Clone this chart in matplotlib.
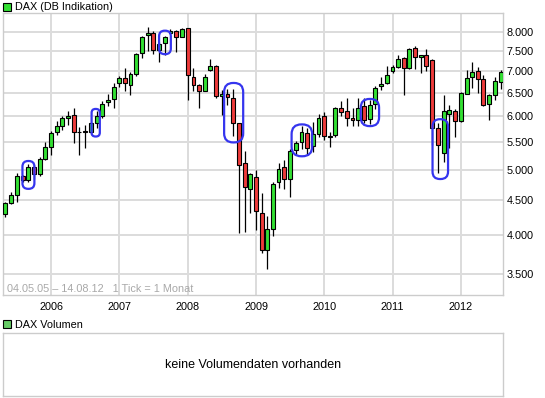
import numpy as np
import pandas as pd
import matplotlib
matplotlib.use("Agg")
import matplotlib.pyplot as plt
import matplotlib.dates as mdates
from matplotlib.patches import Rectangle, FancyBboxPatch
from matplotlib.ticker import FixedLocator, NullLocator
from matplotlib.transforms import IdentityTransform

plt.rcParams['font.family'] = ['Liberation Sans', 'DejaVu Sans']

# monthly DAX candles, May 2005 .. Aug 2012
months = pd.date_range('2005-05-01', periods=88, freq='MS')
opens = [4300, 4461, 4590, 4887, 4829, 5050, 4929, 5193,
         5408, 5690, 5800, 5970, 6025, 5690, 5700, 5690, 5859, 6004, 6296, 6364,
         6720, 6850, 6681, 6930, 7452, 7918, 7973, 7530, 7703, 7973, 8035, 7880,
         8110, 6877, 6681, 6552, 7044, 7130, 6440, 6480, 6400, 5860, 5113, 4674,
         4874, 4306, 3800, 4075, 4787, 5045, 4842, 5348, 5495, 5675, 5420, 5656,
         6000, 5608, 5627, 6183, 6120, 5960, 5918, 6212, 5957, 6260, 6650, 6720,
         7000, 7110, 7320, 7070, 7590, 7360, 7410, 7280, 5774, 5300, 6050, 6120,
         5900, 6486, 6860, 7000, 6820, 6250, 6452, 6760]
highs = [4480, 4637, 4950, 4905, 5100, 5080, 5218, 5500,
         5710, 5910, 6010, 6115, 6172, 5780, 5833, 5880, 6115, 6320, 6480, 6720,
         6880, 7088, 6976, 7464, 7900, 8154, 8044, 7747, 7900, 8082, 8060, 8127,
         8120, 7088, 6700, 6936, 7297, 7150, 6565, 6590, 6590, 5876, 5333, 4940,
         4990, 4620, 4270, 4800, 5117, 5172, 5376, 5524, 5800, 5768, 5892, 6049,
         6100, 5680, 6200, 6325, 6380, 6170, 6380, 6393, 6340, 6650, 6870, 7130,
         7150, 7398, 7360, 7570, 7640, 7400, 7544, 7290, 5872, 6445, 6230, 6160,
         6520, 7030, 7228, 7110, 6916, 6480, 6860, 7040]
lows = [4260, 4451, 4480, 4800, 4790, 4850, 4890, 5170,
        5258, 5630, 5730, 5833, 5476, 5258, 5378, 5650, 5764, 5970, 6222, 6180,
        6640, 6545, 6449, 6900, 7327, 7505, 7420, 7226, 7405, 7950, 7478, 7860,
        6346, 6545, 6172, 6540, 7020, 6400, 6025, 6240, 5612, 4020, 4040, 4306,
        4068, 3760, 3562, 3986, 4703, 4675, 4550, 5250, 5360, 5258, 5320, 5600,
        5540, 5400, 5600, 6010, 5804, 5810, 5800, 5860, 5850, 6150, 6570, 6700,
        6960, 7070, 6459, 7050, 7060, 6970, 7000, 5440, 4952, 5130, 5390, 5600,
        5880, 6470, 6615, 6500, 6213, 5935, 6346, 6580]
closes = [4461, 4587, 4887, 4829, 5044, 4929, 5193, 5408,
          5674, 5800, 5970, 6009, 5693, 5683, 5682, 5859, 6004, 6269, 6346, 6641,
          6850, 6733, 6936, 7420, 7880, 7973, 7530, 7679, 7880, 8035, 7880, 8091,
          6905, 6681, 6552, 6877, 7130, 6427, 6479, 6422, 5870, 5075, 4706, 4926,
          4341, 3796, 4085, 4763, 5011, 4842, 5333, 5474, 5686, 5393, 5656, 5975,
          5608, 5598, 6183, 6094, 5975, 5930, 6170, 5935, 6240, 6610, 6700, 6905,
          7100, 7300, 7070, 7544, 7362, 7410, 7120, 5774, 5441, 6105, 6140, 5900,
          6505, 6842, 6976, 6820, 6246, 6450, 6763, 6990]

# highlighted September patterns: date span and price span
hl_start = ['2005-07-31', '2006-08-05', '2007-08-01', '2008-07-14',
            '2009-07-10', '2010-07-15', '2011-08-03']
hl_end = ['2005-10-03', '2006-09-18', '2007-10-03', '2008-10-24',
          '2009-10-28', '2010-10-21', '2011-10-25']
hl_low = [4683, 5601, 7424, 5489, 5235, 5804, 4843]
hl_high = [5151, 6155, 8044, 6727, 5838, 6369, 5943]

yticks = [3500, 4000, 4500, 5000, 5500, 6000, 6500, 7000, 7500, 8000]
years = [2006, 2007, 2008, 2009, 2010, 2011, 2012]

green = '#33e033'
red = '#ee3b3b'
grid_c = '#dcdcdc'
frame_c = '#cccccc'

W, H = 545, 398
fig = plt.figure(figsize=(W / 100, H / 100), dpi=100)
fig.patch.set_facecolor('white')

ax = fig.add_axes([3 / W, 1 - 295 / H, 500 / W, 282 / H])
ax.set_yscale('log')
ax.set_ylim(3257, 8546)
ax.set_xlim(mdates.date2num(pd.Timestamp('2005-04-18')),
            mdates.date2num(pd.Timestamp('2012-08-14')))

x = mdates.date2num(months)
o = np.array(opens, float)
c = np.array(closes, float)
ax.vlines(x, lows, highs, color='black', lw=0.9, zorder=3)
up = c >= o
cols = np.where(up, green, red)
ax.bar(x, np.abs(c - o), bottom=np.minimum(o, c), width=21,
       color=cols, edgecolor='black', linewidth=0.8, zorder=4)

# axes styling
ax.yaxis.set_major_locator(FixedLocator(yticks))
ax.yaxis.set_minor_locator(NullLocator())
ax.set_yticklabels([f'{v:,}'.replace(',', '.') for v in yticks])
ax.yaxis.tick_right()
ax.set_xticks([mdates.date2num(pd.Timestamp(f'{y}-01-01')) for y in years])
ax.set_xticklabels([str(y) for y in years])
ax.tick_params(axis='both', length=0, labelsize=7.8, colors='black')
ax.tick_params(axis='x', pad=5)
ax.tick_params(axis='y', pad=2.5)
ax.grid(True, color=grid_c, lw=1.4, zorder=0)
ax.set_axisbelow(True)
for s in ax.spines.values():
    s.set_color(frame_c)
    s.set_linewidth(1)

ax.text(0.008, 0.02, '04.05.05 \u2013 14.08.12   1 Tick = 1 Monat',
        transform=ax.transAxes, fontsize=7.8, color='#a8a8a8',
        ha='left', va='center')

# rounded highlight frames, drawn in pixel space
fig.canvas.draw()
for s0, s1, lo, hi in zip(hl_start, hl_end, hl_low, hl_high):
    p0 = ax.transData.transform((mdates.date2num(pd.Timestamp(s0)), lo))
    p1 = ax.transData.transform((mdates.date2num(pd.Timestamp(s1)), hi))
    w = p1[0] - p0[0]
    h = p1[1] - p0[1]
    r = min(w, h) / 2 * 0.95
    box = FancyBboxPatch((p0[0], p0[1]), w, h,
                         boxstyle=f'round,pad=0,rounding_size={r}',
                         transform=IdentityTransform(), fill=False,
                         edgecolor='#3535ee', lw=1.6, zorder=6)
    fig.patches.append(box)

# top legend
fig.patches.append(Rectangle((3 / W, 1 - 11 / H), 8 / W, 8 / H,
                             transform=fig.transFigure, facecolor=green,
                             edgecolor='black', lw=0.8))
fig.text(15 / W, 1 - 7 / H, 'DAX (DB Indikation)', fontsize=7.8,
         ha='left', va='center')

# volume panel
fig.patches.append(Rectangle((3 / W, 1 - 328 / H), 8 / W, 8 / H,
                             transform=fig.transFigure, facecolor='#66cc66',
                             edgecolor='black', lw=0.8))
fig.text(15 / W, 1 - 324.5 / H, 'DAX Volumen', fontsize=7.8,
         ha='left', va='center')
vax = fig.add_axes([3 / W, 2 / H, 500 / W, 63 / H])
vax.set_xticks([])
vax.set_yticks([])
for s in vax.spines.values():
    s.set_color(frame_c)
    s.set_linewidth(1)
vax.text(0.5, 0.5, 'keine Volumendaten vorhanden', transform=vax.transAxes,
         ha='center', va='center', fontsize=9)

fig.savefig('out.png', dpi=100)
